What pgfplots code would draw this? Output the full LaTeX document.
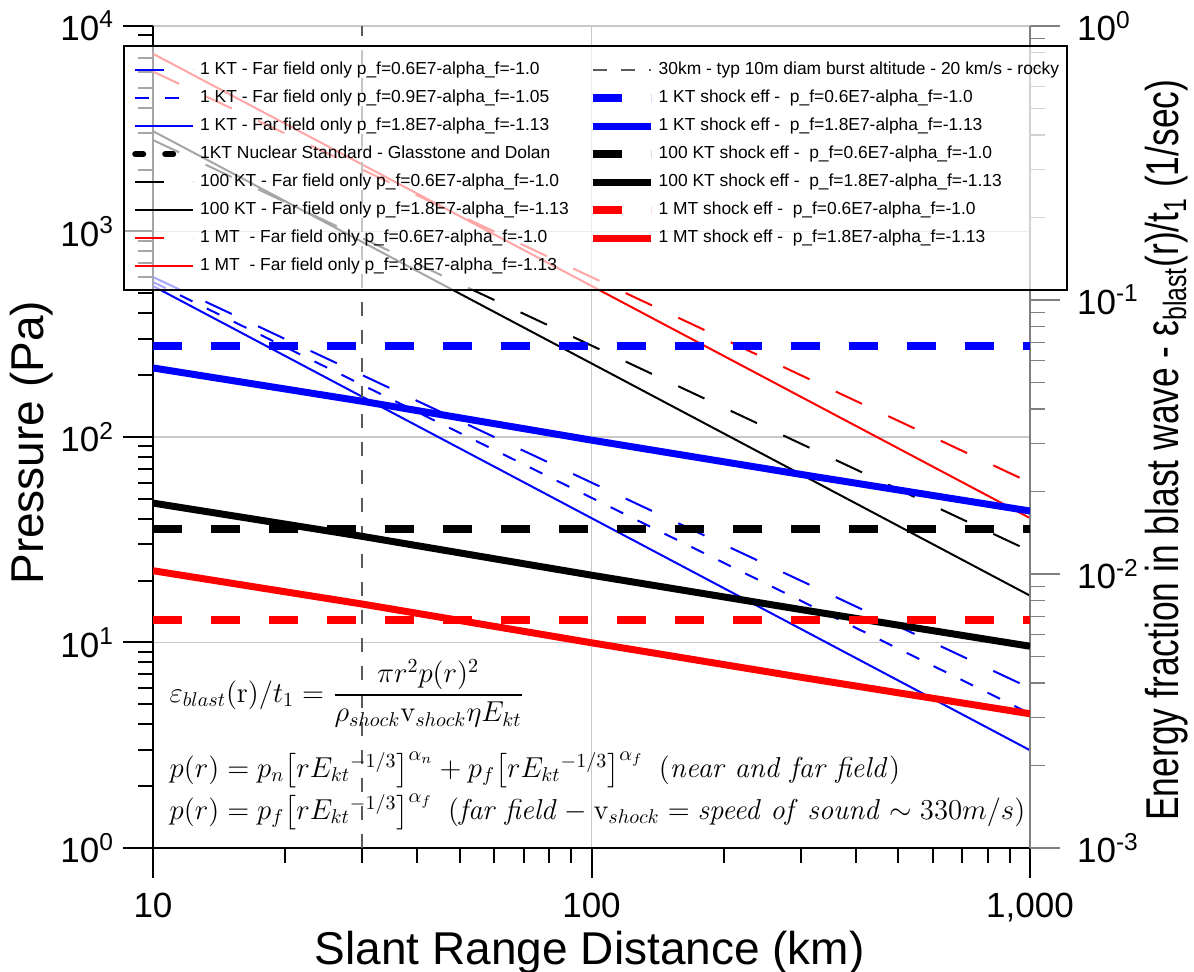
\documentclass[border=0pt]{standalone}
\usepackage{amsmath}
\usepackage{graphicx}
\usepackage{pgfplots}
\pgfplotsset{compat=1.18}
\usepackage[no-math]{fontspec}
\setmainfont{Liberation Sans}
\definecolor{gridgray}{RGB}{200,200,200}
\definecolor{vgray}{RGB}{90,90,90}
\tikzset{
  farlong/.style={line width=1pt, dash pattern=on 14.5pt off 14.5pt},
  farmed/.style={line width=1pt, dash pattern=on 7pt off 8pt},
  farsolid/.style={line width=1pt},
  shockdash/.style={line width=4pt, dash pattern=on 14.5pt off 14.5pt},
  shocksolid/.style={line width=3.5pt},
  nucstd/.style={black, line width=3pt, line cap=round, dash pattern=on 4pt off 11pt},
  burst/.style={vgray, line width=1pt, dash pattern=on 7pt off 7pt},
}
\begin{document}
\begin{tikzpicture}
\path[use as bounding box] (-76.5pt,-62pt) rectangle (520.5pt,424pt);
% ---------------- left axis: pressure ----------------
\begin{axis}[
  width=438.5pt, height=411pt, scale only axis,
  at={(0pt,0pt)}, anchor=south west,
  xmode=log, ymode=log, xmin=10, xmax=1000,
  clip mode=individual,
  tick align=outside,
  major tick length=15pt, minor tick length=7.5pt,
  tick label style={font=\fontsize{17.5}{20}\selectfont},
  label style={font=\fontsize{23}{26}\selectfont},
  ymin=1, ymax=10000,
  axis x line*=bottom, axis y line*=left,
  axis line style={line width=1.25pt},
  tick style={black, line width=1pt},
  xtick={10,100,1000}, xticklabels={10,100,{1,000}},
  xticklabel style={yshift=-4pt},
  yticklabel style={xshift=-1pt},
  ytick={1,10,100,1000,10000},
  yticklabels={10\textsuperscript{0},10\textsuperscript{1},10\textsuperscript{2},10\textsuperscript{3},10\textsuperscript{4}},
  grid=major, major grid style={gridgray, line width=0.6pt},
  xlabel={Slant Range Distance (km)},
  ylabel={Pressure (Pa)},
  xlabel style={at={(axis description cs:0.498,-0.127)}, anchor=center},
  ylabel style={at={(axis description cs:-0.138,0.493)}, anchor=center},
]
% 1 KT far field
\addplot[blue, farlong] coordinates {(10,600) (1000,6)};
\addplot[blue, farmed] coordinates {(10,568) (1000,4.51)};
\addplot[blue, farsolid] coordinates {(10,543) (1000,2.99)};
% 100 KT far field
\addplot[black, farlong] coordinates {(10,2785) (1000,27.85)};
\addplot[black, farsolid] coordinates {(10,3078) (1000,16.9)};
% 1 MT far field
\addplot[red, farlong] coordinates {(10,6000) (1000,60)};
\addplot[red, farsolid] coordinates {(10,7328) (1000,40.3)};
% 30 km burst altitude
\addplot[burst] coordinates {(30,1) (30,10000)};
% equations
\node[anchor=west, font=\fontsize{14}{17}\selectfont] at (axis description cs:0.011,0.188)
  {$\varepsilon_{blast}(\mathrm{r})/t_1=\dfrac{\pi r^2 p(r)^2}{\rho_{shock}\mathrm{v}_{shock}\eta E_{kt}}$};
\node[anchor=west, font=\fontsize{14}{17}\selectfont] at (axis description cs:0.011,0.095)
  {$p(r)=p_n\bigl[rE_{kt}{}^{-1/3}\bigr]^{\alpha_n}+p_f\bigl[rE_{kt}{}^{-1/3}\bigr]^{\alpha_f}$\ \ $(\mathit{near\ and\ far\ field})$};
\node[anchor=west, font=\fontsize{14}{17}\selectfont] at (axis description cs:0.011,0.044)
  {$p(r)=p_f\bigl[rE_{kt}{}^{-1/3}\bigr]^{\alpha_f}$\ \ $(\mathit{far\ field}-\mathrm{v}_{shock}=\mathit{speed\ of\ sound}\sim 330m/s)$};
\end{axis}
% ---------------- right axis: energy fraction ----------------
\begin{axis}[
  width=438.5pt, height=411pt, scale only axis,
  at={(0pt,0pt)}, anchor=south west,
  xmode=log, ymode=log, xmin=10, xmax=1000,
  tick align=outside,
  major tick length=15pt, minor tick length=7.5pt,
  tick label style={font=\fontsize{17.5}{20}\selectfont},
  label style={font=\fontsize{23}{26}\selectfont},
  ymin=0.001, ymax=1,
  axis x line=none, axis y line*=right,
  axis line style={gray, line width=0.6pt},
  tick style={gray, line width=0.6pt},
  ytick={0.001,0.01,0.1,1},
  yticklabels={10\textsuperscript{-3},10\textsuperscript{-2},10\textsuperscript{-1},10\textsuperscript{0}},
  yticklabel style={xshift=5pt},
  ylabel={\scalebox{0.77}[1]{Energy fraction in blast wave - ε\textsubscript{blast}(r)/t\textsubscript{1} (1/sec)}},
  ylabel style={at={(axis description cs:1.156,0.484)}, anchor=center},
  legend cell align=left,
  legend columns=2,
  legend image code/.code={\draw[#1] (0pt,0pt) -- (29pt,0pt);},
  legend style={at={(axis description cs:-0.0342,0.9769)}, anchor=north west,
    font=\fontsize{8.7}{10}\selectfont,
    fill=white, fill opacity=0.65, text opacity=1, draw opacity=1,
    draw=black, line width=1.2pt,
    inner xsep=4pt, inner ysep=5pt,
    nodes={inner xsep=0pt, inner ysep=0pt, text height=9pt, text depth=5pt},
    /tikz/every odd column/.append style={column sep=2pt},
    /tikz/every even column/.append style={column sep=10pt},
  },
]
% shock efficiency curves (legend built below)
\addplot[blue, shockdash, forget plot] coordinates {(10,0.0679) (1000,0.0679)};
\addplot[blue, shocksolid, forget plot] coordinates {(10,0.0565) (30,0.0427) (100,0.0308) (300,0.0231) (1000,0.01698)};
\addplot[black, shockdash, forget plot] coordinates {(10,0.01463) (1000,0.01463)};
\addplot[black, shocksolid, forget plot] coordinates {(10,0.01815) (30,0.01372) (100,0.00990) (300,0.00742) (1000,0.00545)};
\addplot[red, shockdash, forget plot] coordinates {(10,0.00679) (1000,0.00679)};
\addplot[red, shocksolid, forget plot] coordinates {(10,0.01028) (30,0.00777) (100,0.00561) (300,0.00420) (1000,0.00309)};
% legend, row by row
\addlegendimage{blue, farlong}
\addlegendentry{1 KT - Far field only p\_f=0.6E7-alpha\_f=-1.0}
\addlegendimage{burst}
\addlegendentry{30km - typ 10m diam burst altitude - 20 km/s - rocky}
\addlegendimage{blue, farmed}
\addlegendentry{1 KT - Far field only p\_f=0.9E7-alpha\_f=-1.05}
\addlegendimage{blue, shockdash}
\addlegendentry{1 KT shock eff -\ \ p\_f=0.6E7-alpha\_f=-1.0}
\addlegendimage{blue, farsolid}
\addlegendentry{1 KT - Far field only p\_f=1.8E7-alpha\_f=-1.13}
\addlegendimage{blue, shocksolid}
\addlegendentry{1 KT shock eff -\ \ p\_f=1.8E7-alpha\_f=-1.13}
\addlegendimage{nucstd}
\addlegendentry{1KT Nuclear Standard - Glasstone and Dolan}
\addlegendimage{black, shockdash}
\addlegendentry{100 KT shock eff -\ \ p\_f=0.6E7-alpha\_f=-1.0}
\addlegendimage{black, farlong}
\addlegendentry{100 KT - Far field only p\_f=0.6E7-alpha\_f=-1.0}
\addlegendimage{black, shocksolid}
\addlegendentry{100 KT shock eff -\ \ p\_f=1.8E7-alpha\_f=-1.13}
\addlegendimage{black, farsolid}
\addlegendentry{100 KT - Far field only p\_f=1.8E7-alpha\_f=-1.13}
\addlegendimage{red, shockdash}
\addlegendentry{1 MT shock eff -\ \ p\_f=0.6E7-alpha\_f=-1.0}
\addlegendimage{red, farlong}
\addlegendentry{1 MT\ \ - Far field only p\_f=0.6E7-alpha\_f=-1.0}
\addlegendimage{red, shocksolid}
\addlegendentry{1 MT shock eff -\ \ p\_f=1.8E7-alpha\_f=-1.13}
\addlegendimage{red, farsolid}
\addlegendentry{1 MT\ \ - Far field only p\_f=1.8E7-alpha\_f=-1.13}
\end{axis}
\end{tikzpicture}
\end{document}
